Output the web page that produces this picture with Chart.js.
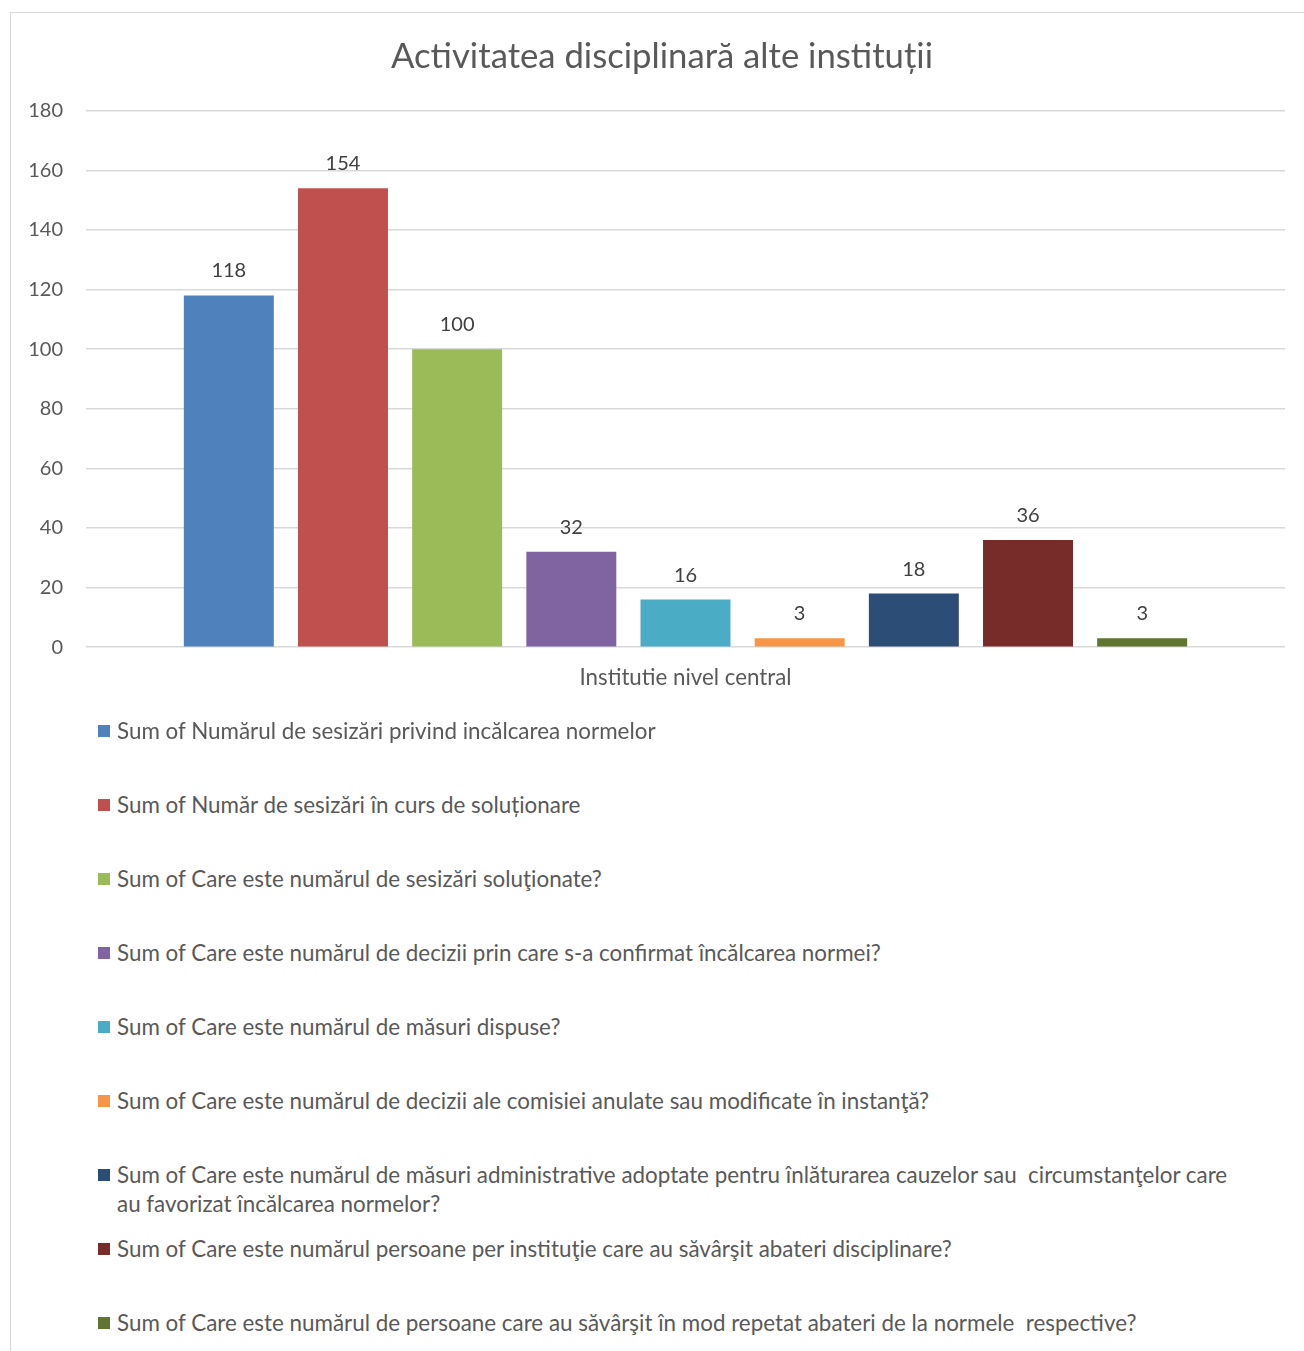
<!DOCTYPE html>
<html>
<head>
<meta charset="utf-8">
<script src="https://cdn.jsdelivr.net/npm/chart.js@4/dist/chart.umd.min.js"></script>
<style>
  html, body { margin: 0; padding: 0; background: #fff; overflow: hidden; width: 1304px; height: 1351px; }
  #frame { position: absolute; left: 10px; top: 12px; width: 1310px; height: 1360px; border: 1px solid #d9d9d9; box-sizing: border-box; }
  #c { position: absolute; left: 11px; top: 13px; }
  .lg { position: absolute; left: 98px; width: 1150px; display: flex; align-items: flex-start; font-family: Lato, sans-serif; font-size: 22.4px; line-height: 29px; color: #595959; }
  .lg .sw { flex: none; width: 12px; height: 12px; margin-top: 9px; margin-right: 7px; }
  .lg .tx { white-space: pre-wrap; }
</style>
</head>
<body>
<div id="frame"></div>
<canvas id="c" width="1302" height="708"></canvas>
<div id="legend"></div>
<script>
const chartTitle = 'Activitatea disciplinară alte instituții';
const categories = ['Institutie nivel central'];
const seriesLabels = [
  'Sum of Numărul de sesizări privind incălcarea normelor',
  'Sum of Număr de sesizări în curs de soluționare',
  'Sum of Care este numărul de sesizări soluţionate?',
  'Sum of Care este numărul de decizii prin care s-a confirmat încălcarea normei?',
  'Sum of Care este numărul de măsuri dispuse?',
  'Sum of Care este numărul de decizii ale comisiei anulate sau modificate în instanţă?',
  'Sum of Care este numărul de măsuri administrative adoptate pentru înlăturarea cauzelor sau  circumstanţelor care au favorizat încălcarea normelor?',
  'Sum of Care este numărul persoane per instituţie care au săvârşit abateri disciplinare?',
  'Sum of Care este numărul de persoane care au săvârşit în mod repetat abateri de la normele  respective?'
];
const seriesValues = [118, 154, 100, 32, 16, 3, 18, 36, 3];
const seriesColors = ['#4F81BD', '#C0504D', '#9BBB59', '#8064A2', '#4BACC6', '#F79646', '#2C4D75', '#772C2A', '#5F7530'];
const yMin = 0, yMax = 180, yStep = 20;

const FONT = 'Lato, sans-serif';

const valueLabels = {
  id: 'valueLabels',
  afterDatasetsDraw(chart) {
    const ctx = chart.ctx;
    ctx.save();
    ctx.font = '20px ' + FONT;
    ctx.fillStyle = '#404040';
    ctx.textAlign = 'center';
    ctx.textBaseline = 'alphabetic';
    chart.data.datasets.forEach((ds, i) => {
      chart.getDatasetMeta(i).data.forEach((bar, j) => {
        ctx.fillText(String(ds.data[j]), bar.x, bar.y - 18);
      });
    });
    ctx.restore();
  }
};

new Chart(document.getElementById('c'), {
  type: 'bar',
  data: {
    labels: categories,
    datasets: seriesLabels.map((lab, i) => ({
      label: lab,
      data: [seriesValues[i]],
      backgroundColor: seriesColors[i],
      borderWidth: 0,
      categoryPercentage: 0.857,
      barPercentage: 0.788
    }))
  },
  options: {
    responsive: false,
    devicePixelRatio: 1,
    animation: false,
    layout: { padding: { top: 0, left: 0, right: 0, bottom: 21 } },
    plugins: {
      legend: { display: false },
      tooltip: { enabled: false },
      title: {
        display: true,
        text: chartTitle,
        color: '#595959',
        font: { family: FONT, size: 34.7, weight: 'normal' },
        padding: { top: 23, bottom: 33 }
      }
    },
    scales: {
      x: {
        grid: { display: false },
        border: { display: false },
        ticks: { color: '#595959', font: { family: FONT, size: 22.3 }, padding: 9 }
      },
      y: {
        min: yMin, max: yMax,
        ticks: { stepSize: yStep, color: '#595959', font: { family: FONT, size: 20 }, padding: 23 },
        grid: { color: '#d9d9d9', lineWidth: 1.5, drawTicks: false },
        border: { display: false },
        afterFit(scale) { scale.width = 75; }
      },
      yRight: {
        position: 'right',
        min: yMin, max: yMax,
        ticks: { display: false },
        grid: { display: false, drawTicks: false },
        border: { display: false },
        afterFit(scale) { scale.width = 28; }
      }
    }
  },
  plugins: [valueLabels]
});

const legend = document.getElementById('legend');
seriesLabels.forEach((lab, i) => {
  const d = document.createElement('div');
  d.className = 'lg';
  d.style.top = (716 + 74 * i) + 'px';
  const sw = document.createElement('span');
  sw.className = 'sw';
  sw.style.background = seriesColors[i];
  const t = document.createElement('span');
  t.className = 'tx';
  t.textContent = lab;
  d.appendChild(sw);
  d.appendChild(t);
  legend.appendChild(d);
});
</script>
</body>
</html>
